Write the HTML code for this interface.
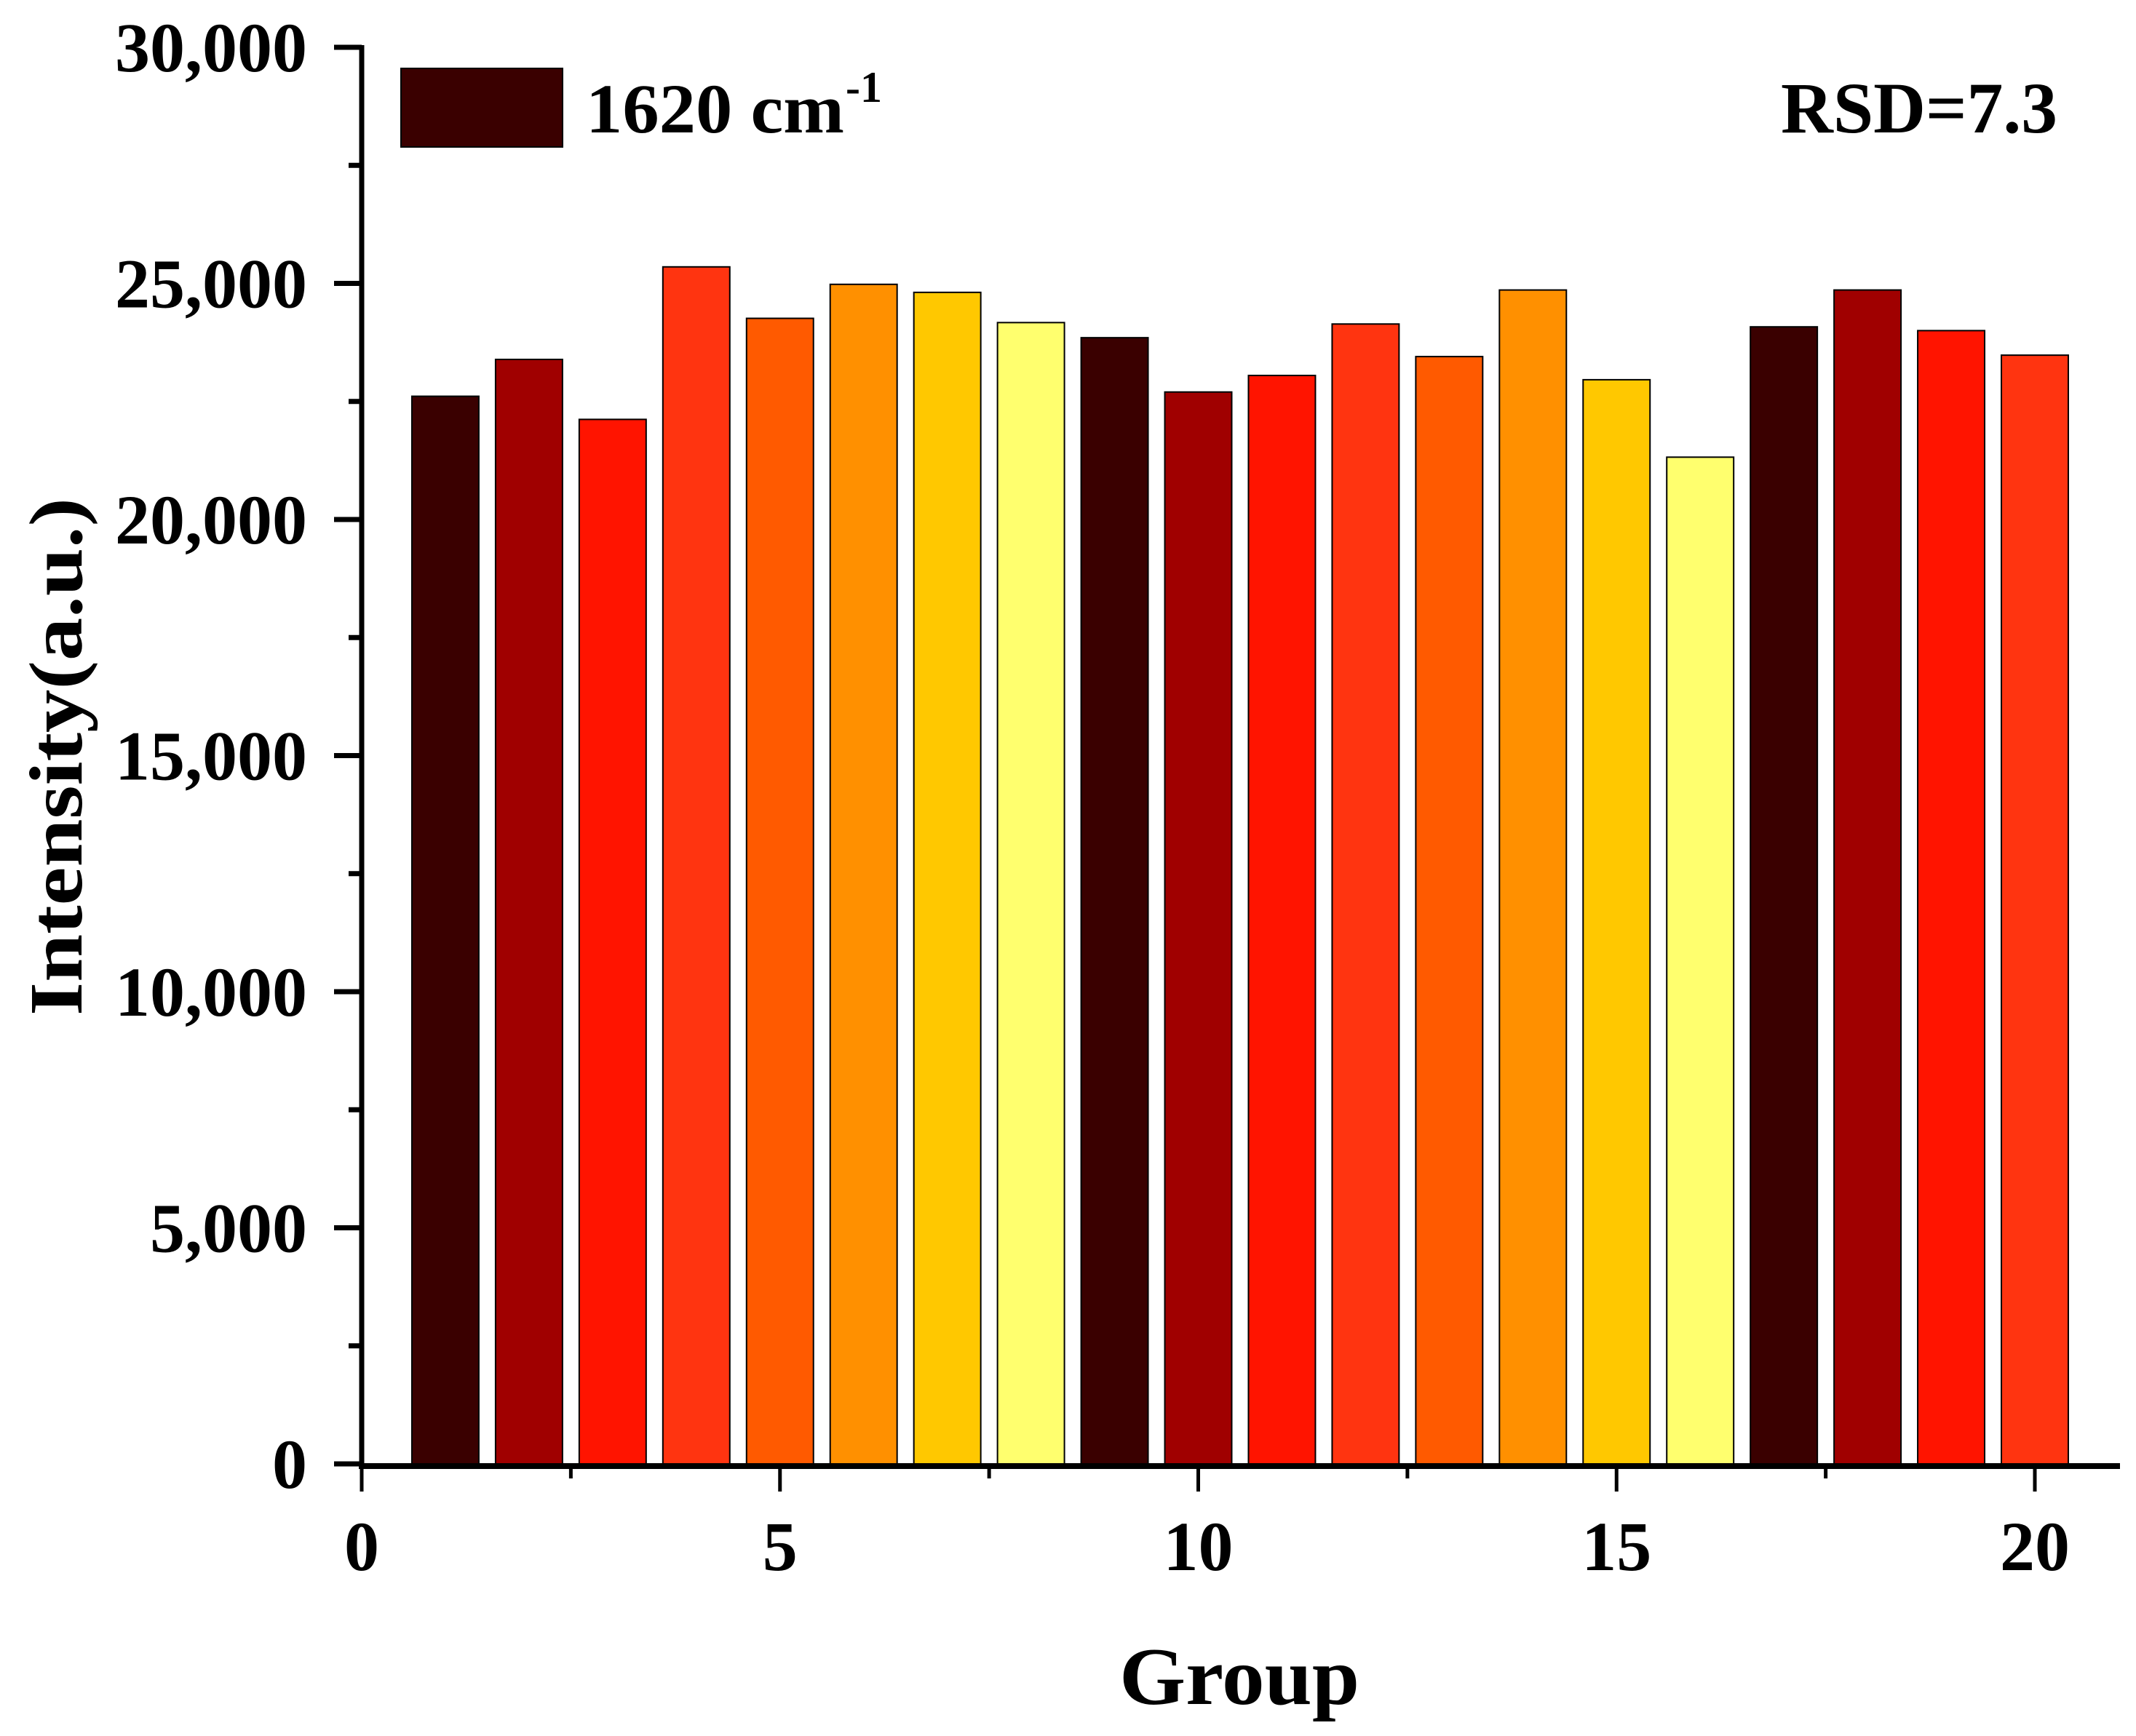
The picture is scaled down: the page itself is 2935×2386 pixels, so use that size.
<!DOCTYPE html>
<html><head><meta charset="utf-8"><style>
html,body{margin:0;padding:0;background:#fff;}
svg{display:block;}
text{font-family:"Liberation Serif","Times New Roman",serif;font-weight:bold;fill:#000;}
</style></head><body>
<svg id="chart" width="2935" height="2386" viewBox="0 0 2935 2386" xmlns="http://www.w3.org/2000/svg">
<g id="bars"></g>
<g id="axes"></g>
<rect x="551" y="94" width="222" height="108" fill="#3a0000" stroke="#000" stroke-width="2"/>
<text x="805" y="182" font-size="96" textLength="355" lengthAdjust="spacingAndGlyphs">1620 cm</text>
<text x="1162" y="140" font-size="60">-1</text>
<text x="2447" y="182" font-size="100" textLength="380" lengthAdjust="spacingAndGlyphs">RSD=7.3</text>
<text x="1703" y="2342" font-size="112" text-anchor="middle" textLength="330" lengthAdjust="spacingAndGlyphs">Group</text>
<text transform="translate(112,1040) rotate(-90)" font-size="104" text-anchor="middle" textLength="712" lengthAdjust="spacingAndGlyphs">Intensity(a.u.)</text>
</svg>
<script>
const groups = [1,2,3,4,5,6,7,8,9,10,11,12,13,14,15,16,17,18,19,20];
const values = [22610,23390,22120,25350,24260,24980,24810,24170,23850,22700,23050,24140,23450,24860,22960,21320,24080,24860,24000,23480];
const barColors = ["#3a0000","#a00000","#ff1400","#ff3410","#ff5a00","#ff9000","#ffc800","#ffff6e"];
const yTicks = [0,5000,10000,15000,20000,25000,30000];
const yTickLabels = ["0","5,000","10,000","15,000","20,000","25,000","30,000"];
const xTicks = [0,5,10,15,20];
const xTickLabels = ["0","5","10","15","20"];

const NS="http://www.w3.org/2000/svg";
const X0=497, XS=114.95, Y0=2012, YS=(2012-65)/30000;
const xs=v=>X0+v*XS, ys=v=>Y0-v*YS;
const barsG=document.getElementById('bars'), axG=document.getElementById('axes');
function mk(tag,attrs,parent){const e=document.createElementNS(NS,tag);for(const k in attrs)e.setAttribute(k,attrs[k]);parent.appendChild(e);return e;}

groups.forEach((g,i)=>{
  const w=0.8*XS, x=xs(g)-w/2, y=ys(values[i]);
  const r=mk('rect',{x:x,y:y,width:w,height:Y0-y,fill:barColors[i%barColors.length],stroke:'#000','stroke-width':2},barsG);
  
  
});

// axes lines
const yl=mk('line',{x1:X0,y1:62,x2:X0,y2:Y0+4,stroke:'#000','stroke-width':7},axG);


const xl=mk('line',{x1:X0-4,y1:Y0+3,x2:2913,y2:Y0+3,stroke:'#000','stroke-width':8},axG);



yTicks.forEach((v,i)=>{
  const y=ys(v);
  mk('line',{x1:X0-38,y1:y,x2:X0,y2:y,stroke:'#000','stroke-width':7},axG);
  const t=mk('text',{x:X0-75,y:y+33,'font-size':96,'text-anchor':'end'},axG);
  t.textContent=yTickLabels[i];
  
  
  if(i<yTicks.length-1){const ym=ys(v+2500);mk('line',{x1:X0-18,y1:ym,x2:X0,y2:ym,stroke:'#000','stroke-width':7},axG);}
});
xTicks.forEach((v,i)=>{
  const x=xs(v);
  mk('line',{x1:x,y1:Y0,x2:x,y2:Y0+38,stroke:'#000','stroke-width':5},axG);
  const t=mk('text',{x:x,y:2158,'font-size':96,'text-anchor':'middle'},axG);
  t.textContent=xTickLabels[i];
  
  
  if(i<xTicks.length-1){const xm=xs(v+2.5);mk('line',{x1:xm,y1:Y0,x2:xm,y2:Y0+20,stroke:'#000','stroke-width':5},axG);}
});
</script>
</body></html>
